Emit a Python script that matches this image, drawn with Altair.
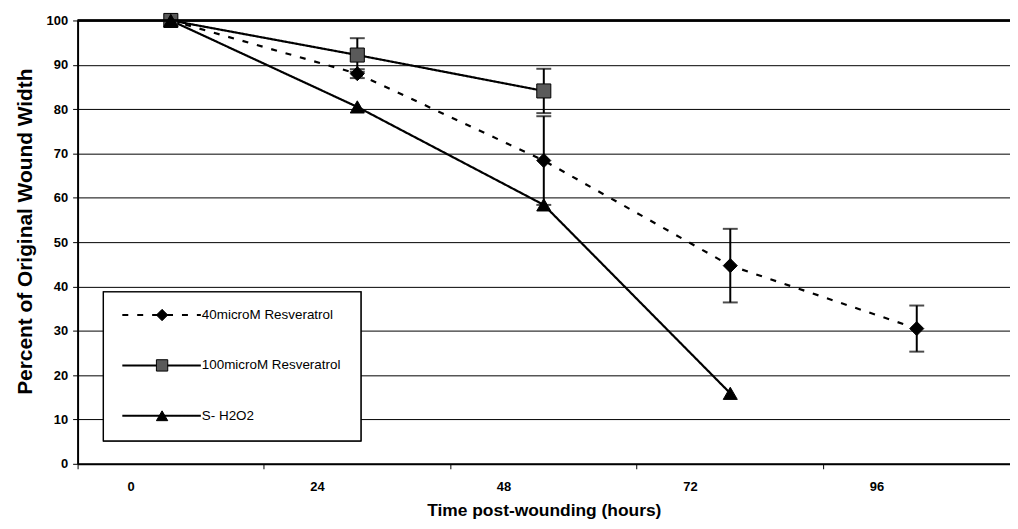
import altair as alt
import pandas as pd

# ---- data ----
hours = ["0", "24", "48", "72", "96"]
series = ["40microM Resveratrol", "100microM Resveratrol", "S- H2O2"]

res40 = [100, 88, 68.4, 44.7, 30.5]
res40_err = [0, 1, 10, 8.3, 5.2]
res100 = [100, 92.2, 84.1]
res100_err = [0, 3.8, 5]
h2o2 = [100, 80.5, 58.4, 15.9]
h2o2_err = [0, 0, 0, 0]

rows = []
for name, vals, errs in [(series[0], res40, res40_err),
                         (series[1], res100, res100_err),
                         (series[2], h2o2, h2o2_err)]:
    for h, v, e in zip(hours, vals, errs):
        rows.append({"series": name, "hours": h, "value": v, "err": e,
                     "lo": v - e, "hi": v + e})
df = pd.DataFrame(rows)
df_err = df[df["err"] > 0]
df_leg = pd.DataFrame({"series": series})

FONT = "Liberation Sans"

x_enc = alt.X("hours:N", sort=hours, scale=alt.Scale(paddingInner=0, paddingOuter=0),
              axis=alt.Axis(title="Time post-wounding (hours)", labelAngle=0,
                            bandPosition=0, labelOffset=-40, tickSize=5,
                            tickColor="black", domainColor="black", domainWidth=2,
                            grid=False, labelPadding=12, labelFontSize=13,
                            labelFont=FONT, labelFontWeight="bold", labelColor="black",
                            titleFont=FONT, titleFontSize=17.5, titleFontWeight="bold",
                            titleColor="black", titleY=47, titleBaseline="middle"))

y_scale = alt.Scale(domain=[0, 100], nice=False)
y_axis = alt.Axis(title="Percent of Original Wound Width", values=list(range(0, 101, 10)),
                  grid=True, gridColor="black", gridWidth=1, domainColor="black",
                  domainWidth=2, tickColor="black", tickSize=5, labelPadding=5,
                  labelFontSize=13, labelFont=FONT, labelFontWeight="bold",
                  labelColor="black", labelFlush=False,
                  titleFont=FONT, titleFontSize=21, titleFontWeight="bold",
                  titleColor="black", titleX=-52, titleY=212, titleBaseline="middle")

dash = alt.StrokeDash("series:N", scale=alt.Scale(domain=series, range=[[6, 9], [1, 0], [1, 0]]),
                      legend=None)
shape = alt.Shape("series:N", scale=alt.Scale(domain=series,
                                             range=["diamond", "square", "triangle-up"]),
                  legend=None)
fill = alt.Fill("series:N", scale=alt.Scale(domain=series, range=["black", "#5a5a5a", "black"]),
                legend=None)

base = alt.Chart(df)
lines = base.mark_line(color="black", strokeWidth=2.2).encode(
    x=x_enc, y=alt.Y("value:Q", scale=y_scale, axis=y_axis), strokeDash=dash,
    detail="series:N")
err_rules = alt.Chart(df_err).mark_rule(color="black", strokeWidth=2).encode(
    x=alt.X("hours:N", sort=hours), y=alt.Y("lo:Q"), y2="hi:Q")
cap_lo = alt.Chart(df_err).mark_tick(color="black", thickness=2, size=15).encode(
    x=alt.X("hours:N", sort=hours), y="lo:Q")
cap_hi = alt.Chart(df_err).mark_tick(color="black", thickness=2, size=15).encode(
    x=alt.X("hours:N", sort=hours), y="hi:Q")
points = base.mark_point(filled=True, size=200, stroke="black", strokeWidth=1,
                         opacity=1).encode(
    x=alt.X("hours:N", sort=hours), y="value:Q", shape=shape, fill=fill)
top_rule = alt.Chart(df_leg).mark_rule(color="black", strokeWidth=2).encode(
    x=alt.value(0), x2=alt.value(938), y=alt.value(0))

main = alt.layer(lines, err_rules, cap_lo, cap_hi, points, top_rule)

# ---- legend box drawn inside the plot ----
leg_y = alt.Y("series:N", scale=alt.Scale(domain=series, range=[271, 423]), axis=None)
lbase = alt.Chart(df_leg)
box = lbase.mark_rect(fill="white", stroke="black", strokeWidth=1.2).encode(
    x=alt.value(26), x2=alt.value(285), y=alt.value(273), y2=alt.value(423))
leg_lines = lbase.mark_rule(color="black", strokeWidth=2).encode(
    x=alt.value(45), x2=alt.value(124), y=leg_y, strokeDash=dash)
leg_points = lbase.mark_point(filled=True, size=130, stroke="black", strokeWidth=1,
                              opacity=1).encode(
    x=alt.value(85), y=leg_y, shape=shape, fill=fill)
leg_text = lbase.mark_text(align="left", baseline="middle", fontSize=13.5, font=FONT,
                           color="black").encode(
    x=alt.value(125), y=leg_y, text="series:N")
legend = alt.layer(box, leg_lines, leg_points, leg_text)

chart = alt.layer(main, legend).resolve_scale(y="independent").properties(
    width=938, height=446,
    autosize=alt.AutoSizeParams(type="none"),
    padding={"left": 70, "top": 11, "right": 0, "bottom": 56},
    background="white",
).configure_view(stroke=None)

chart.save("out.html", embed_options={"renderer": "svg", "actions": False})
